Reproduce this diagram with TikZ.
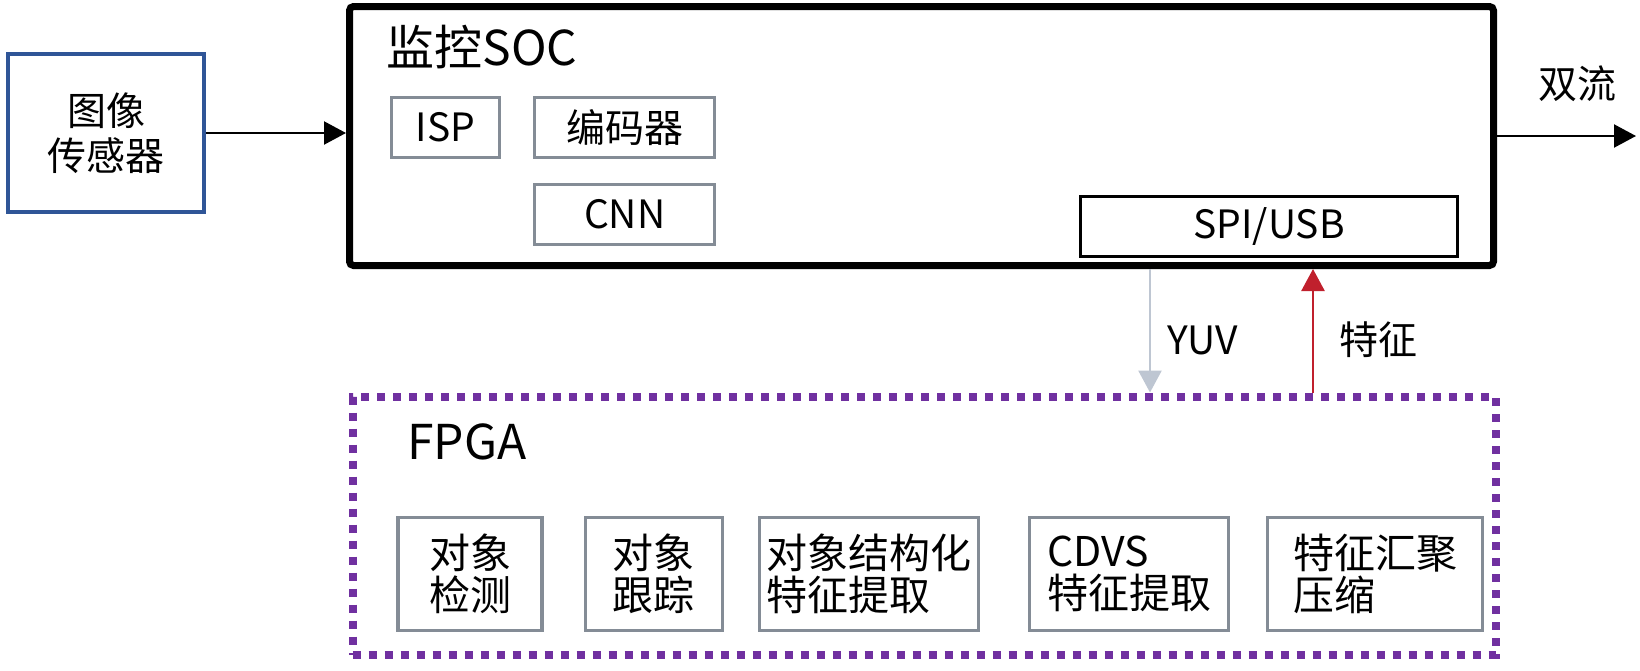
\documentclass[tikz,border=0pt]{standalone}
\usepackage{fontspec}
\setmainfont{Noto Sans CJK SC}
\usetikzlibrary{positioning,arrows.meta}

\definecolor{boxgray}{RGB}{132,140,150}
\definecolor{fpgapurple}{RGB}{112,48,160}
\definecolor{sensorblue}{RGB}{47,85,151}
\definecolor{yuvgray}{RGB}{190,198,210}
\definecolor{featred}{RGB}{192,32,45}

\begin{document}
\begin{tikzpicture}[x=0.5pt, y=-0.5pt,
    sensornode/.style={rectangle, draw=sensorblue, line width=1.8pt, minimum width=98pt, minimum height=79pt, align=center, font=\fontsize{19.5}{22.5}\selectfont},
    chipbox/.style={rectangle, draw=black, line width=3.5pt, rounded corners=2pt, minimum width=572pt, minimum height=129.5pt},
    fpgabox/.style={rectangle, draw=fpgapurple, line width=4pt, dash pattern=on 4pt off 4pt, minimum width=571.5pt, minimum height=129pt},
    graynode/.style={rectangle, draw=boxgray, line width=1.6pt, minimum height=30pt, inner sep=0pt, font=\fontsize{19.5}{21}\selectfont},
    blocknode/.style={rectangle, draw=boxgray, line width=1.6pt, minimum height=56.5pt, inner sep=0pt, align=left, font=\fontsize{20.5}{21}\selectfont},
    titletext/.style={anchor=west, inner sep=0pt, font=\fontsize{24}{26}\selectfont},
    labeltext/.style={inner sep=0pt, font=\fontsize{19.5}{21}\selectfont},
    flowarrow/.style={line width=1.1pt, -{Triangle[length=11pt, width=11.5pt]}}]

    \useasboundingbox (0,0) rectangle (1640,670);

    % sensor and SOC
    \node[sensornode] (sensor) at (106,133) {图像\\传感器};
    \node[chipbox] (soc) at (921.5,136) {};
    \node[titletext] (soctitle) at (386,47) {监控SOC};
    \node[graynode, minimum width=54pt] (isp) at (445.5,127.5) {ISP};
    \node[graynode, minimum width=90pt] (enc) [right=16pt of isp] {编码器};
    \node[graynode, minimum width=90pt] (cnn) [below=12pt of enc] {CNN};
    \node[graynode, draw=black, minimum width=188.5pt] (spi) at (1269,226.5) {SPI/USB};

    % FPGA
    \node[fpgabox] (fpga) at (924,525.5) {};
    \node[titletext] (fpgatitle) at (407,442) {FPGA};
    \node[blocknode, minimum width=72pt] (detect) at (470,574) {对象\\检测};
    \node[blocknode, minimum width=68.5pt] (track) [right=20pt of detect] {对象\\跟踪};
    \node[blocknode, minimum width=109.5pt] (struct) [right=17pt of track] {对象结构化\\特征提取};
    \node[blocknode, minimum width=99.5pt] (cdvs) [right=24pt of struct] {CDVS\\特征提取};
    \node[blocknode, minimum width=107.5pt] (agg) [right=18pt of cdvs] {特征汇聚\\压缩};

    % connectors
    \coordinate (out) at (1636,136);
    \coordinate (yuvx) at (1150,0);
    \coordinate (featx) at (1313,0);
    \draw[flowarrow] (sensor.east) -- (sensor.east -| soc.west);
    \draw[flowarrow] (soc.east) -- (out);
    \node[labeltext] (dual) at (1577,84) {双流};
    \draw[flowarrow, draw=yuvgray, line width=1.3pt] (soc.south -| yuvx) -- (fpga.north -| yuvx);
    \draw[flowarrow, draw=featred, fill=featred, line width=1.3pt] (fpga.north -| featx) -- (soc.south -| featx);
    \node[labeltext] (yuv) at (1203,340) {YUV};
    \node[labeltext] (feat) at (1378,340) {特征};

\end{tikzpicture}
\end{document}
